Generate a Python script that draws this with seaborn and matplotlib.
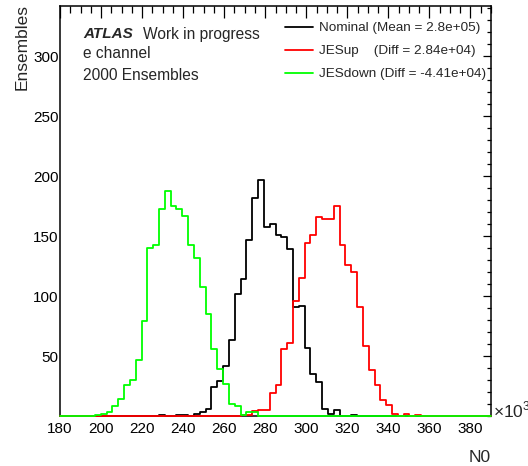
import numpy as np
import pandas as pd
import matplotlib
matplotlib.use("Agg")
import matplotlib.pyplot as plt
import seaborn as sns

# Histogram binning of N0 (in units of 10^3)
x_min, x_max, n_bins = 180, 390, 74
edges = np.linspace(x_min, x_max, n_bins + 1)
centers = 0.5 * (edges[:-1] + edges[1:])

# Ensemble counts per bin (first bin index, then consecutive contents)
nominal_start = 17
nominal_counts = [1, 0, 0, 1, 1, 0, 2, 3, 6, 24, 29, 42, 63, 102, 114, 147, 182,
                  197, 158, 160, 151, 149, 139, 91, 92, 57, 35, 28, 6, 2, 5, 0,
                  0, 1]
jesup_start = 31
jesup_counts = [1, 1, 4, 5, 5, 19, 26, 56, 61, 96, 115, 144, 151, 166, 164, 164,
                175, 143, 126, 120, 91, 58, 38, 26, 13, 9, 2, 0, 2, 0, 1]
jesdown_start = 6
jesdown_counts = [1, 2, 3, 8, 14, 26, 30, 47, 79, 140, 143, 173, 188, 175, 173,
                  167, 143, 132, 108, 85, 56, 39, 27, 10, 8, 1, 3, 3]

series_labels = ["Nominal (Mean = 2.8e+05)",
                 "JESup    (Diff = 2.84e+04)",
                 "JESdown (Diff = -4.41e+04)"]
series_colors = ["#000000", "#ff0000", "#00ff00"]

x_ticks = list(range(180, 381, 20))
y_ticks = [50, 100, 150, 200, 250, 300]


def full_contents(start, counts):
    h = np.zeros(n_bins)
    h[start:start + len(counts)] = counts
    return h


frames = []
for lab, start, counts in [(series_labels[0], nominal_start, nominal_counts),
                           (series_labels[1], jesup_start, jesup_counts),
                           (series_labels[2], jesdown_start, jesdown_counts)]:
    frames.append(pd.DataFrame({"N0": centers,
                                "weight": full_contents(start, counts),
                                "sample": lab}))
data = pd.concat(frames, ignore_index=True)

sns.set_theme(style="white")
plt.rcParams["font.family"] = ["Liberation Sans", "DejaVu Sans"]
plt.rcParams["mathtext.fontset"] = "custom"
plt.rcParams["mathtext.rm"] = "Liberation Sans"

W, H = 528, 466
fig = plt.figure(figsize=(W / 100, H / 100), dpi=100)
ax = fig.add_axes([60 / W, 1 - 416 / H, (491 - 60) / W, (416 - 6) / H])

for lab, col in zip(series_labels, series_colors):
    sns.histplot(data=data[data["sample"] == lab], x="N0", weights="weight",
                 bins=edges.tolist(), element="step", fill=False, color=col,
                 linewidth=1.3, label=lab, ax=ax)

for ln in ax.lines:
    ln.set_clip_on(False)
    ln.set_zorder(3)

ax.set_xlim(x_min, x_max)
ax.set_ylim(0, 342)
ax.set_xticks(x_ticks)
ax.set_xticklabels([str(t) for t in x_ticks])
ax.set_yticks(y_ticks)
ax.set_yticklabels([str(t) for t in y_ticks])
ax.xaxis.set_minor_locator(matplotlib.ticker.MultipleLocator(5))
ax.yaxis.set_minor_locator(matplotlib.ticker.MultipleLocator(10))
ax.tick_params(axis="both", which="both", direction="in", top=True, right=True,
               colors="black", labelsize=11, width=0.9)
ax.tick_params(axis="x", which="major", length=8.6, pad=4)
ax.tick_params(axis="x", which="minor", length=5)
ax.tick_params(axis="y", which="major", length=5.5, pad=1)
ax.tick_params(axis="y", which="minor", length=3)
for sp in ax.spines.values():
    sp.set_color("black")
    sp.set_linewidth(1.1)
ax.set_xlabel("")
ax.set_ylabel("")


def fx(px):
    return px / W


def fy(py):
    return 1 - py / H


fig.text(fx(22), fy(4), "Ensembles", rotation=90, ha="center", va="top",
         fontsize=12.5)
fig.text(fx(491), fy(457), "N0", ha="right", va="center", fontsize=12.5)
fig.text(fx(493), fy(410), r"$\times10^{3}$", ha="left", va="center",
         fontsize=12.5)

fig.text(fx(83), fy(34), "ATLAS", fontsize=11, fontweight="bold",
         fontstyle="italic", ha="left", va="center")
fig.text(fx(143), fy(34), "Work in progress", fontsize=11.2, ha="left",
         va="center")
fig.text(fx(83), fy(54), "e channel", fontsize=11.2, ha="left", va="center")
fig.text(fx(83), fy(76), "2000 Ensembles", fontsize=11.2, ha="left",
         va="center")

ax.legend(loc="upper left", bbox_to_anchor=(fx(285), fy(22)),
          bbox_transform=fig.transFigure, frameon=False, fontsize=9.7,
          handlelength=2.1, handletextpad=0.4, labelspacing=0.78,
          borderpad=0, borderaxespad=0)

fig.savefig("out.png", dpi=100)
